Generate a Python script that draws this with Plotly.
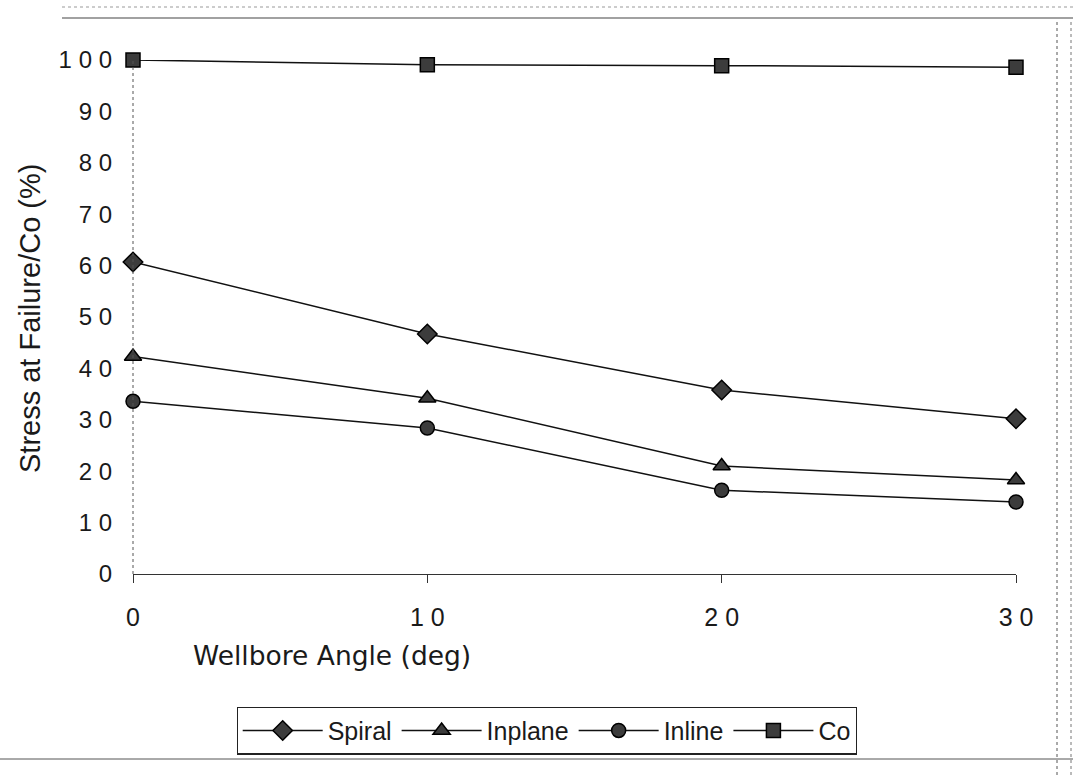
import plotly.graph_objects as go

angles = [0, 10, 20, 30]
spiral = [60.7, 46.7, 35.8, 30.2]
inplane = [42.3, 34.2, 21.0, 18.3]
inline = [33.6, 28.4, 16.3, 14.0]
co = [100.0, 99.1, 98.9, 98.6]

y_ticks = [0, 10, 20, 30, 40, 50, 60, 70, 80, 90, 100]
y_ticktext = ["0", "1 0", "2 0", "3 0", "4 0", "5 0", "6 0", "7 0", "8 0", "9 0", "1 0 0"]
x_ticks = [0, 10, 20, 30]
x_ticktext = ["0", "1 0", "2 0", "3 0"]

font = "Liberation Sans, Arial, sans-serif"
L, R, T, B = 133, 57, 60, 202
W, H = 1073, 776
pw, ph = W - L - R, H - T - B


def px(x):
    return (x - L) / pw


def py(y):
    return (H - B - y) / ph


fig = go.Figure()
series = [
    ("Spiral", spiral, "diamond", 15),
    ("Inplane", inplane, "triangle-up", 15),
    ("Inline", inline, "circle", 14),
    ("Co", co, "square", 14),
]
for name, vals, sym, sz in series:
    fig.add_trace(go.Scatter(
        x=angles, y=vals, name=name, mode="lines+markers",
        line=dict(color="#111", width=1.5),
        marker=dict(symbol=sym, size=sz, color="#3c3c3c", line=dict(color="#000", width=1.5)),
        cliponaxis=False,
    ))

fig.update_layout(
    width=W, height=H,
    margin=dict(l=L, r=R, t=T, b=B),
    paper_bgcolor="white", plot_bgcolor="white",
    font=dict(family=font, size=24, color="#1a1a1a"),
    showlegend=True,
    legend=dict(orientation="h", x=px(547), y=py(730.5), xanchor="center", yanchor="middle",
                bordercolor="#222", borderwidth=1.2, font=dict(size=25, color="#1a1a1a"),
                itemwidth=80, tracegroupgap=0),
    xaxis=dict(range=[0, 30], tickvals=x_ticks, ticktext=x_ticktext, showgrid=False,
               zeroline=False, showline=True, linecolor="#333", linewidth=1,
               ticks="outside", ticklen=8, tickcolor="#333", ticklabelstandoff=13,
               tickfont=dict(size=25, color="#1a1a1a")),
    yaxis=dict(range=[0, 100], tickvals=y_ticks, ticktext=y_ticktext, showgrid=False,
               zeroline=False, showline=False, ticks="", ticklabelstandoff=20,
               tickfont=dict(size=24, color="#1a1a1a")),
    annotations=[
        dict(text="Wellbore Angle (deg)", xref="paper", yref="paper", x=px(191), y=py(656),
             xanchor="left", yanchor="middle", showarrow=False,
             font=dict(family="DejaVu Sans, sans-serif", size=26.5, color="#1a1a1a")),
        dict(text="Stress at Failure/Co (%)", xref="paper", yref="paper", x=px(30), y=py(319),
             xanchor="center", yanchor="middle", textangle=-90, showarrow=False,
             font=dict(size=29, color="#1a1a1a")),
    ],
    shapes=[
        dict(type="line", xref="paper", yref="paper", x0=0, x1=0, y0=0, y1=1,
             line=dict(color="#555", width=1, dash="dot")),
        dict(type="line", xref="paper", yref="paper", x0=px(62), x1=px(1073),
             y0=py(18), y1=py(18), line=dict(color="#444", width=1.2)),
        dict(type="line", xref="paper", yref="paper", x0=px(62), x1=px(1073),
             y0=py(7), y1=py(7), line=dict(color="#999", width=1, dash="dot")),
        dict(type="line", xref="paper", yref="paper", x0=px(1057), x1=px(1057),
             y0=py(22), y1=py(776), line=dict(color="#555", width=1, dash="dot")),
        dict(type="line", xref="paper", yref="paper", x0=px(1071), x1=px(1071),
             y0=py(22), y1=py(776), line=dict(color="#777", width=1, dash="dot")),
        dict(type="line", xref="paper", yref="paper", x0=px(0), x1=px(1073),
             y0=py(759), y1=py(759), line=dict(color="#555", width=1)),
    ],
)
fig.write_html("out.html")
